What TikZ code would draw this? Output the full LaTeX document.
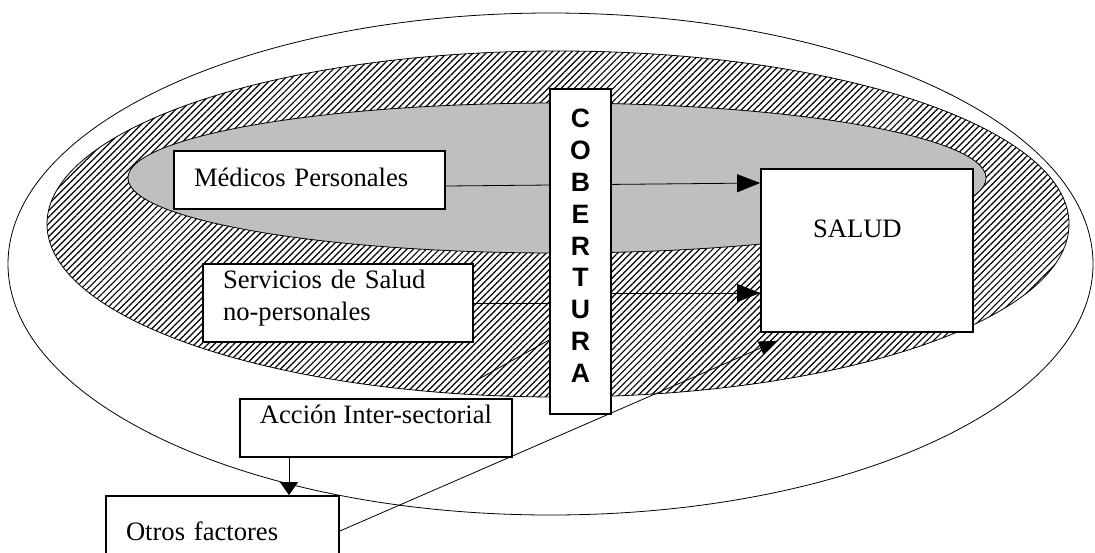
\documentclass[tikz,border=0pt]{standalone}
\usepackage{fontspec}
\setmainfont{Liberation Serif}
\newfontfamily\cobfont{Liberation Sans}
\usetikzlibrary{arrows.meta,patterns.meta,backgrounds}

\begin{document}
\begin{tikzpicture}
			[x=0.5pt,y=-0.5pt,line width=0.9pt,
			every node/.style={font=\fontsize{13.3}{16}\selectfont},
			caja/.style={draw,fill=white,inner ysep=0pt,inner xsep=10pt,align=left},
			flecha/.style={-{Triangle[length=11.5pt,width=9pt]}}]
			\useasboundingbox (0,0) rectangle (1095,552);
			\node[caja,text width=115.5pt,minimum height=29pt,text height=9pt,text depth=3pt] (med) at (309.5,180) {Médicos Personales};
			\node[caja,text width=115pt,minimum height=39pt,text height=9pt,text depth=24pt] (serv) at (338,303) {Servicios de Salud\\no-personales};
			\node[caja,minimum width=135pt,minimum height=29pt,text height=9pt,text depth=14pt] (acc) at (376,428) {Acción Inter-sectorial};
			\node[caja,text width=96.5pt,minimum height=35pt] (otros) at (222.5,531) {Otros factores};
			\node[caja,inner xsep=26pt,text width=54pt,minimum height=81.5pt,text height=9pt,text depth=22.5pt] (salud) at (867,250.5) {SALUD};
			\node[caja,inner xsep=0pt,text width=30.5pt,align=center,minimum height=162.5pt,
				text height=9.5pt,text depth=133.5pt,font=\cobfont\bfseries\fontsize{13.3}{15.94}\selectfont] (cob) at (580.5,251.5)
				{C\\O\\B\\E\\R\\T\\U\\R\\A};
			\begin{scope}[on background layer]
				\draw[fill=white] (550.5,264) ellipse [x radius=271.25pt,y radius=125.5pt];
				\draw[pattern={Lines[angle=45,distance=2.3pt,line width=0.6pt]}] (558,224) ellipse [x radius=255.5pt,y radius=86.5pt];
				\draw[fill=black!25] (557,178) ellipse [x radius=214.5pt,y radius=37.5pt];
				\draw[flecha] ([yshift=-3pt]med.east) -- (salud.west |- 0,183);
				\draw (serv.east) -- (serv.east -| cob.west);
				\draw[flecha] (cob.east |- 0,293) -- (salud.west |- 0,293);
				\coordinate (ini) at (477,380);
				\draw (ini) -- (cob.west |- 0,340);
				\draw[-{Triangle[length=6.5pt,width=9pt]}] (acc.south -| 289,0) -- (otros.north -| 289,0);
				\draw[-{Triangle[length=9pt,width=7pt]}] (otros.east) -- ([xshift=8.5pt,yshift=-4pt]salud.south west);
			\end{scope}
		\end{tikzpicture}
\end{document}
